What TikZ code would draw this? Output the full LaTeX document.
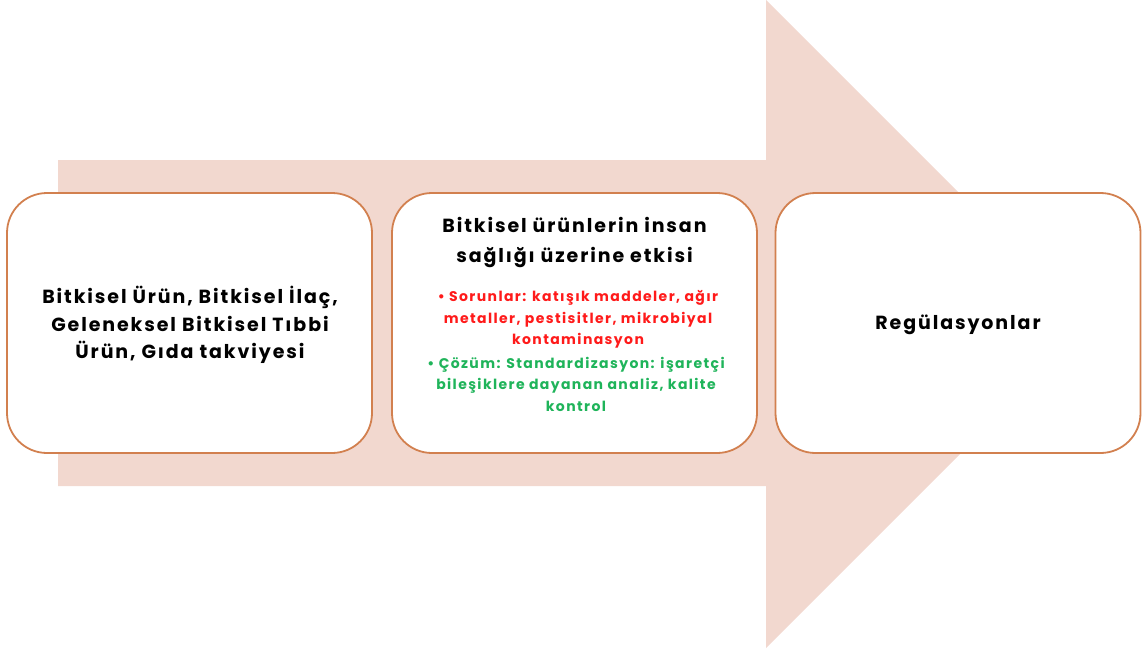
\documentclass[tikz,border=0pt]{standalone}
\usepackage{fontspec}
\setmainfont{Poppins}[LetterSpace=10]
\begin{document}
\begin{tikzpicture}[x=1pt,y=-1pt,
  arrowfill/.style={fill=arrowpeach,draw=none},
  stagebox/.style={draw=boxedge,line width=1.8pt,fill=white,rounded corners=40pt,
    minimum width=365pt,minimum height=260pt,inner sep=0pt},
  stagetext/.style={font=\bfseries\fontsize{19}{27.5}\selectfont,align=center,text=black},
  titletext/.style={font=\bfseries\fontsize{19}{30}\selectfont,align=center,text=black},
  issuetext/.style={font=\bfseries\fontsize{14}{21.5}\selectfont,align=center}]
\definecolor{arrowpeach}{HTML}{F2D8CF}
\definecolor{boxedge}{HTML}{D2804F}
\definecolor{issuered}{HTML}{FF1A1A}
\definecolor{fixgreen}{HTML}{1FB45A}
\useasboundingbox (0,0) rectangle (1146,654);
% broad background arrow
\path[arrowfill] (58,160) -- (766,160) -- (766,0) -- (1090,324) -- (766,648)
  -- (766,486) -- (58,486) -- cycle;
% three stages
\node[stagebox] (product) at (189.5,323) {};
\node[stagebox] (effect) at (574.5,323) {};
\node[stagebox] (rules) at (958,323) {};
\node[stagetext] (productlbl) at (190,325)
  {Bitkisel Ürün, Bitkisel İlaç,\\Geleneksel Bitkisel Tıbbi\\Ürün, Gıda takviyesi};
\node[titletext] (effectlbl) at (574.5,242)
  {Bitkisel ürünlerin insan\\sağlığı üzerine etkisi};
\node[issuetext,text=issuered] (problems) at (578,319.5)
  {• Sorunlar: katışık maddeler, ağır\\metaller, pestisitler, mikrobiyal\\kontaminasyon};
\node[issuetext,text=fixgreen] (solution) at (576,384)
  {• Çözüm: Standardizasyon: işaretçi\\bileşiklere dayanan analiz, kalite\\kontrol};
\node[stagetext] (ruleslbl) at (958,325) {Regülasyonlar};
\end{tikzpicture}
\end{document}
